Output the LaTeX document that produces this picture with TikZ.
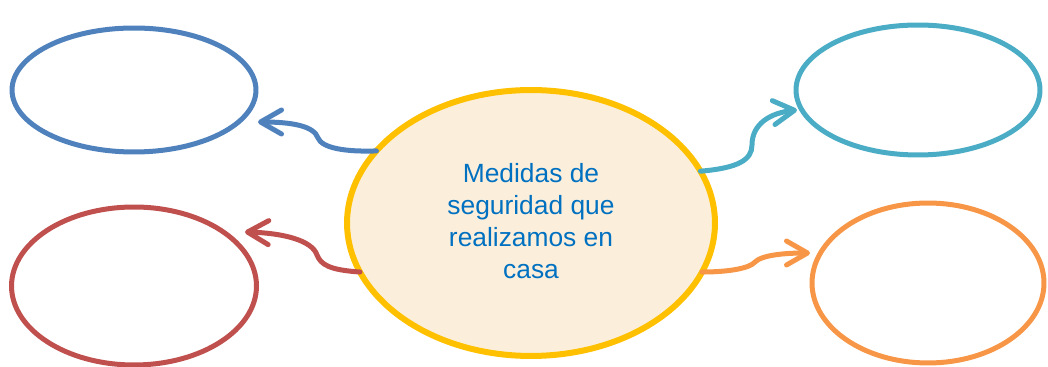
\documentclass[tikz,border=0pt]{standalone}
\usepackage{fontspec}
\setmainfont{Liberation Sans}
\usetikzlibrary{arrows.meta,shapes.geometric}
\definecolor{cblue}{HTML}{4F81BD}
\definecolor{cred}{HTML}{C0504D}
\definecolor{ccyan}{HTML}{4BACC6}
\definecolor{corange}{HTML}{F79646}
\definecolor{cyellow}{HTML}{FFC000}
\definecolor{cfill}{HTML}{FBEFDC}
\definecolor{ctext}{HTML}{0070C0}
\begin{document}
\begin{tikzpicture}[x=0.02cm,y=-0.02cm,
  bubble/.style={ellipse,draw,line width=0.1cm,inner sep=0pt,outer sep=0pt},
  link/.style={line width=0.1cm,line cap=round,-{Straight Barb[length=0.42cm,width=0.48cm,round]}}]
\useasboundingbox (0,0) rectangle (1048,367);
% outer bubbles
\node[bubble,cblue,minimum width=4.88cm,minimum height=2.48cm] (b) at (134,90) {};
\node[bubble,cred,minimum width=4.9cm,minimum height=3.16cm] (r) at (134,286) {};
\node[bubble,ccyan,minimum width=4.88cm,minimum height=2.6cm] (cy) at (918,90) {};
\node[bubble,corange,minimum width=4.64cm,minimum height=3.2cm] (o) at (928,283) {};
% centre
\node[bubble,draw=cyellow,fill=cfill,line width=0.12cm,minimum width=7.36cm,minimum height=5.32cm] (c) at (531,223) {};
\node[text=ctext,align=center,font=\fontsize{15pt}{18.2pt}\selectfont] (t) at (531,221)
  {Medidas de\\seguridad que\\realizamos en\\casa};
% arrow tips
\coordinate (bt) at (258,122);
\coordinate (rt) at (245,232);
\coordinate (cyt) at (797,110);
\coordinate (ot) at (810,253);
% connectors
\draw[link,cblue] (c.155) .. controls (345,152) and (322,148) .. (318,138)
  .. controls (314,126) and (292,122) .. (bt);
\draw[link,cred] (c.196) .. controls (330,270) and (321,265) .. (317,255)
  .. controls (312,240) and (282,233) .. (rt);
\draw[link,ccyan] (c.17) .. controls (738,168) and (752,160) .. (752,145)
  .. controls (752,124) and (770,113) .. (cyt);
\draw[link,corange] (c.-16) .. controls (730,272) and (750,268) .. (755,262)
  .. controls (762,255) and (785,253) .. (ot);
\end{tikzpicture}
\end{document}
